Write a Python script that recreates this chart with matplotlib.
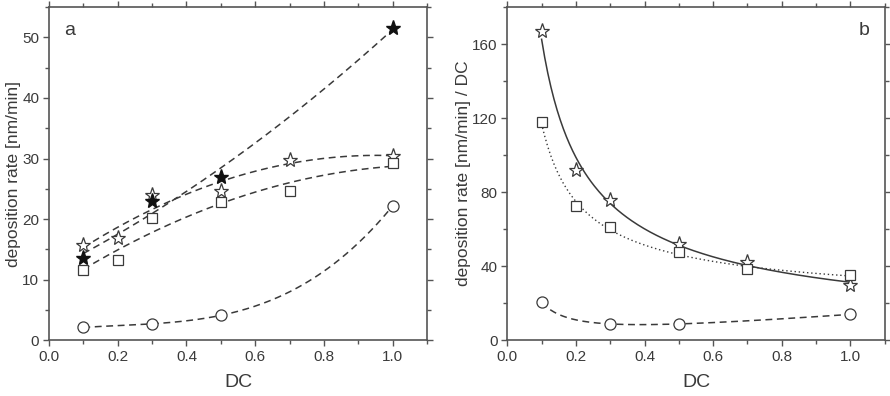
import numpy as np
import matplotlib
matplotlib.use("Agg")
import matplotlib.pyplot as plt
from matplotlib.ticker import MultipleLocator

plt.rcParams['font.family'] = ['Liberation Sans', 'DejaVu Sans']

# panel a: deposition rate [nm/min]
dc_full = [0.1, 0.2, 0.3, 0.5, 0.7, 1.0]
dc_part = [0.1, 0.3, 0.5, 1.0]
a_star_filled = [13.5, 23.0, 27.0, 51.5]          # at dc_part
a_star_open = [15.7, 16.8, 24.0, 24.7, 29.8, 30.4]
a_square = [11.6, 13.3, 20.2, 22.8, 24.6, 29.2]
a_circle = [2.1, 2.7, 4.1, 22.2]                  # at dc_part

# panel b: deposition rate / DC
b_star_open = [167.0, 92.0, 75.5, 52.0, 42.5, 30.0]
b_square = [118.0, 72.5, 61.0, 47.5, 38.5, 35.0]
b_circle = [20.5, 9.0, 8.5, 14.0]                 # at dc_part

ink = "#3a3a3a"
frame = "#555555"


def poly_curve(x, y, deg):
    c = np.polyfit(x, y, deg)
    xs = np.linspace(min(x), max(x), 200)
    return xs, np.polyval(c, xs)


def loglog_curve(x, y, deg=2):
    c = np.polyfit(np.log(x), np.log(y), deg)
    xs = np.linspace(min(x), max(x), 200)
    return xs, np.exp(np.polyval(c, np.log(xs)))


def inverse_curve(x, y):
    # least squares fit of y = a + b/x + c*x
    x = np.asarray(x)
    A = np.column_stack([np.ones_like(x), 1 / x, x])
    c, *_ = np.linalg.lstsq(A, np.asarray(y), rcond=None)
    xs = np.linspace(x.min(), x.max(), 200)
    return xs, c[0] + c[1] / xs + c[2] * xs


def style(ax, ymax, ymajor, ylabel):
    ax.set_xlim(0, 1.1)
    ax.set_ylim(0, ymax)
    ax.xaxis.set_major_locator(MultipleLocator(0.2))
    ax.xaxis.set_minor_locator(MultipleLocator(0.1))
    ax.yaxis.set_major_locator(MultipleLocator(ymajor))
    ax.yaxis.set_minor_locator(MultipleLocator(ymajor / 2))
    ax.xaxis.set_major_formatter(plt.FuncFormatter(lambda v, p: f"{v:.1f}"))
    ax.tick_params(which='both', direction='out', top=True, right=True,
                   colors=frame, labelcolor=ink, labelsize=11, width=1)
    ax.tick_params(which='major', length=4, pad=3)
    ax.tick_params(which='minor', length=3)
    for s in ax.spines.values():
        s.set_color(frame)
        s.set_linewidth(1.2)
    ax.set_xlabel("DC", fontsize=14, color=ink, labelpad=7)
    ax.set_ylabel(ylabel, fontsize=12.5, color=ink, labelpad=1)


fig = plt.figure(figsize=(8.9, 3.96), dpi=100)
ax1 = fig.add_axes([0.055, 0.141, 0.425, 0.841])
ax2 = fig.add_axes([0.570, 0.141, 0.424, 0.841])

mk = dict(markerfacecolor='white', markeredgecolor=ink, markeredgewidth=0.9,
          linestyle='none')
dash = dict(color=ink, lw=1.1, linestyle=(0, (4.5, 3)))

# panel a
xs, ys = poly_curve(dc_part, a_star_filled, 2)
ax1.plot(xs, ys, **dash)
xs, ys = poly_curve(dc_full, a_star_open, 2)
ax1.plot(xs, ys, **dash)
xs, ys = poly_curve(dc_full, a_square, 2)
ax1.plot(xs, ys, **dash)
xs, ys = poly_curve(dc_part, a_circle, 3)
ax1.plot(xs, ys, **dash)

ax1.plot(dc_full, a_star_open, marker='*', markersize=11, **mk)
ax1.plot(dc_full, a_square, marker='s', markersize=7.5, **mk)
ax1.plot(dc_part, a_circle, marker='o', markersize=8, **mk)
ax1.plot(dc_part, a_star_filled, marker='*', markersize=11, color='#111111',
         linestyle='none')
style(ax1, 55, 10, "deposition rate [nm/min]")
ax1.text(0.04, 0.955, "a", transform=ax1.transAxes, fontsize=14, color=ink,
         va='top', ha='left')

# panel b
xs, ys = loglog_curve(dc_full, b_star_open, 2)
ax2.plot(xs, ys, color=ink, lw=1.1)
xs, ys = loglog_curve(dc_full, b_square, 2)
ax2.plot(xs, ys, color=ink, lw=1.0, linestyle=(0, (1, 2)))
xs, ys = inverse_curve(dc_part, b_circle)
ax2.plot(xs, ys, **dash)

ax2.plot(dc_full, b_star_open, marker='*', markersize=11, **mk)
ax2.plot(dc_full, b_square, marker='s', markersize=7.5, **mk)
ax2.plot(dc_part, b_circle, marker='o', markersize=8, **mk)
style(ax2, 180, 40, "deposition rate [nm/min] / DC")
ax2.text(0.96, 0.955, "b", transform=ax2.transAxes, fontsize=14, color=ink,
         va='top', ha='right')

fig.savefig("out.png", dpi=100)
